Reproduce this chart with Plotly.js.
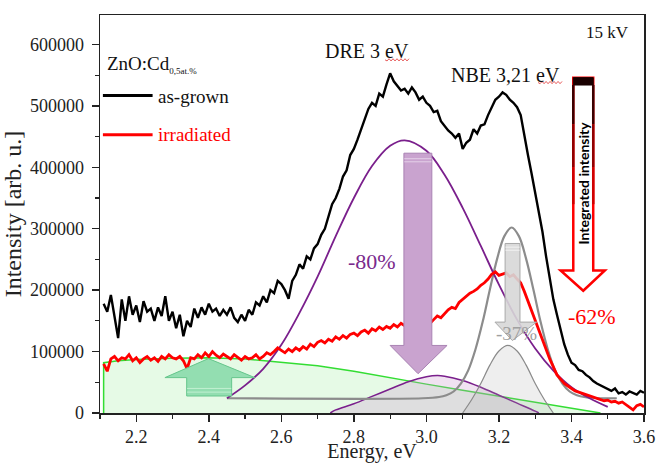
<!DOCTYPE html>
<html>
<head>
<meta charset="utf-8">
<script src="https://cdn.plot.ly/plotly-3.0.1.min.js"></script>
<style>html,body{margin:0;padding:0;background:#fff;}#chart{width:656px;height:463px;}</style>
</head>
<body>
<div id="chart"></div>
<script>
// ---- data ----
const energy = [2.11,2.12,2.13,2.14,2.15,2.16,2.17,2.18,2.19,2.20,
2.21,2.22,2.23,2.24,2.25,2.26,2.27,2.28,2.29,2.30,
2.31,2.32,2.33,2.34,2.35,2.36,2.37,2.38,2.39,2.40,
2.41,2.42,2.43,2.44,2.45,2.46,2.47,2.48,2.49,2.50,
2.51,2.52,2.53,2.54,2.55,2.56,2.57,2.58,2.59,2.60,
2.61,2.62,2.63,2.64,2.65,2.66,2.67,2.68,2.69,2.70,
2.71,2.72,2.73,2.74,2.75,2.76,2.77,2.78,2.79,2.80,
2.81,2.82,2.83,2.84,2.85,2.86,2.87,2.88,2.89,2.90,
2.91,2.92,2.93,2.94,2.95,2.96,2.97,2.98,2.99,3.00,
3.01,3.02,3.03,3.04,3.05,3.06,3.07,3.08,3.09,3.10,
3.11,3.12,3.13,3.14,3.15,3.16,3.17,3.18,3.19,3.20,
3.21,3.22,3.23,3.24,3.25,3.26,3.27,3.28,3.29,3.30,
3.31,3.32,3.33,3.34,3.35,3.36,3.37,3.38,3.39,3.40,
3.41,3.42,3.43,3.44,3.45,3.46,3.47,3.48,3.49,3.50,
3.51,3.52,3.53,3.54,3.55,3.56,3.57,3.58,3.59,3.60];

const asGrown = [178000,165000,192000,158000,122000,185000,150000,190000,160000,175000,
148000,182000,165000,170000,150000,172000,158000,190000,150000,165000,
138000,160000,125000,150000,140000,170000,155000,172000,160000,178000,
165000,170000,158000,168000,160000,172000,155000,148000,160000,150000,
168000,160000,180000,175000,190000,180000,200000,195000,215000,210000,
200000,186000,215000,225000,242000,235000,255000,250000,268000,275000,
290000,300000,322000,340000,350000,365000,385000,395000,420000,430000,
445000,462000,480000,495000,505000,500000,520000,515000,535000,553000,
540000,532000,525000,528000,520000,530000,522000,510000,515000,505000,
500000,490000,492000,475000,468000,460000,455000,448000,455000,430000,
440000,445000,462000,455000,468000,470000,485000,498000,510000,515000,
522000,518000,510000,505000,498000,485000,450000,420000,390000,360000,
330000,295000,255000,218000,185000,160000,135000,112000,95000,82000,
78000,70000,68000,62000,58000,52000,48000,45000,42000,38000,
36000,40000,32000,34000,30000,35000,32000,30000,36000,33000];

const irradiated = [80000,68000,88000,92000,85000,90000,88000,95000,85000,90000,
82000,88000,92000,86000,90000,84000,92000,88000,95000,90000,
88000,92000,85000,72000,90000,88000,95000,90000,98000,92000,
100000,94000,90000,96000,92000,88000,95000,90000,86000,92000,
88000,90000,95000,88000,92000,98000,95000,100000,106000,102000,
98000,104000,100000,106000,102000,108000,104000,112000,108000,115000,
118000,114000,120000,117000,124000,120000,126000,122000,128000,130000,
126000,132000,135000,130000,137000,134000,140000,136000,141000,138000,
144000,140000,146000,142000,148000,152000,145000,150000,146000,150000,
146000,152000,158000,155000,162000,168000,172000,170000,180000,185000,
190000,195000,198000,202000,208000,212000,218000,226000,230000,224000,
226000,228000,222000,225000,218000,212000,198000,182000,168000,150000,
135000,120000,105000,88000,75000,62000,55000,48000,44000,40000,
36000,34000,32000,30000,28000,25000,24000,22000,20000,21000,
18000,19000,16000,18000,14000,10000,5000,12000,14000,10000];

// fitted components
const dreGrownX = [2.45,2.50,2.55,2.60,2.65,2.70,2.75,2.80,2.85,2.90,2.94,3.00,3.05,3.10,3.15,3.20,3.25,3.30,3.35,3.40,3.45,3.50];
const dreGrownY = [24000,45000,72000,111000,163000,222000,288000,350000,402000,435000,444000,427000,388000,334000,272000,209000,152000,105000,69000,42000,24000,10000];

const dreIrrX = [2.735,2.75,2.80,2.85,2.90,2.95,3.00,3.03,3.05,3.10,3.15,3.20,3.25,3.30,3.31];
const dreIrrY = [0,5000,15000,27000,39000,51000,59000,61000,60000,53000,42000,29000,16000,3000,0];

const nbeGrownX = [2.45,2.99,3.035,3.055,3.075,3.095,3.115,3.135,3.155,3.175,3.195,3.215,3.235,3.255,3.275,3.295,3.315,3.335,3.355,3.375,3.395,3.415,3.435,3.48,3.525];
const nbeGrownY = [24000,24000,26000,29000,35000,48000,69000,103000,148000,201000,251000,288000,302000,288000,251000,201000,148000,103000,69000,48000,35000,29000,26000,24000,24000];

const nbeIrrX = [3.10,3.125,3.15,3.175,3.20,3.225,3.25,3.275,3.30,3.325,3.35];
const nbeIrrY = [0,22000,48000,78000,101000,110000,101000,78000,48000,22000,0];

const bgX = [2.11,2.11,2.15,2.20,2.30,2.40,2.50,2.60,2.70,2.80,2.90,3.00,3.10,3.20,3.30,3.40,3.48];
const bgY = [0,82000,85000,87000,89000,90000,88000,83000,77000,68000,57000,47000,37000,27000,17000,8000,0];

const xTickFmt = '.1f';

// ---- traces ----
const serif = 'Liberation Serif, Times New Roman, serif';
const traces = [
  {x: bgX, y: bgY, mode: 'lines', line: {color: '#33dd33', width: 1.5}, fill: 'tozeroy', fillcolor: 'rgba(200,245,200,0.45)', hoverinfo: 'skip'},
  {x: dreIrrX, y: dreIrrY, mode: 'lines', line: {color: '#7a1f8c', width: 1.5, shape: 'spline'}, fill: 'tozeroy', fillcolor: 'rgba(200,150,205,0.28)', hoverinfo: 'skip'},
  {x: nbeIrrX, y: nbeIrrY, mode: 'lines', line: {color: '#8a8a8a', width: 1.2, shape: 'spline'}, fill: 'tozeroy', fillcolor: 'rgba(170,170,170,0.2)', hoverinfo: 'skip'},
  {x: nbeGrownX, y: nbeGrownY, mode: 'lines', line: {color: '#8c8c8c', width: 2.2, shape: 'spline'}, hoverinfo: 'skip'},
  {x: dreGrownX, y: dreGrownY, mode: 'lines', line: {color: '#7a1f8c', width: 1.8, shape: 'spline'}, hoverinfo: 'skip'},
  {x: energy, y: irradiated, mode: 'lines', name: 'irradiated', line: {color: '#ff0000', width: 2.8}},
  {x: energy, y: asGrown, mode: 'lines', name: 'as-grown', line: {color: '#000000', width: 2.4}}
];

// ---- decorations (arrows etc.) ----
function squiggle(x0, x1, y) {
  let p = 'M ' + x0 + ',' + y;
  let k = 0;
  for (let x = x0 + 0.0055; x <= x1 + 1e-9; x += 0.0055) {
    k++;
    p += ' L ' + x.toFixed(4) + ',' + (y + (k % 2 ? -1800 : 1800));
  }
  return p;
}
const shapes = [
  // purple down arrow
  {type: 'path', xref: 'x', yref: 'y', path: 'M 2.938,423000 L 3.015,423000 L 3.015,110000 L 3.057,110000 L 2.977,64000 L 2.900,110000 L 2.938,110000 Z', fillcolor: '#c9a3cf', line: {color: '#a983b3', width: 1}},
  {type: 'line', xref: 'x', yref: 'y', x0: 2.939, x1: 3.014, y0: 414000, y1: 414000, line: {color: '#e4d0e8', width: 1}},
  {type: 'line', xref: 'x', yref: 'y', x0: 2.939, x1: 3.014, y0: 409000, y1: 409000, line: {color: '#e4d0e8', width: 1}},
  // green up arrow
  {type: 'path', xref: 'x', yref: 'y', path: 'M 2.339,27700 L 2.339,57600 L 2.279,57600 L 2.399,88600 L 2.527,57600 L 2.463,57600 L 2.463,27700 Z', fillcolor: '#93deb1', line: {color: '#66c68c', width: 1}},
  {type: 'line', xref: 'x', yref: 'y', x0: 2.340, x1: 2.462, y0: 40000, y1: 40000, line: {color: '#c2f0d2', width: 1}},
  {type: 'line', xref: 'x', yref: 'y', x0: 2.340, x1: 2.462, y0: 34000, y1: 34000, line: {color: '#c2f0d2', width: 1}},
  // gray down arrow
  {type: 'path', xref: 'x', yref: 'y', path: 'M 3.217,276000 L 3.258,276000 L 3.258,148000 L 3.304,148000 L 3.237,118000 L 3.189,148000 L 3.217,148000 Z', fillcolor: 'rgba(215,215,215,0.9)', line: {color: '#a8a8a8', width: 1}},
  {type: 'line', xref: 'x', yref: 'y', x0: 3.218, x1: 3.257, y0: 270000, y1: 270000, line: {color: '#f2f2f2', width: 1}},
  {type: 'line', xref: 'x', yref: 'y', x0: 3.218, x1: 3.257, y0: 265000, y1: 265000, line: {color: '#f2f2f2', width: 1}},
  // red outlined arrow
  {type: 'path', xref: 'x', yref: 'y', path: 'M 3.405,546000 L 3.460,546000 L 3.460,232000 L 3.492,232000 L 3.4325,199000 L 3.370,232000 L 3.405,232000 Z', fillcolor: '#ffffff', line: {color: '#ff0000', width: 2.5}},
  {type: 'rect', xref: 'x', yref: 'y', x0: 3.405, x1: 3.460, y0: 534000, y1: 546000, fillcolor: '#1a0000', line: {color: '#1a0000', width: 1}},
  {type: 'line', xref: 'x', yref: 'y', x0: 3.405, x1: 3.405, y0: 534000, y1: 470000, line: {color: '#3a0000', width: 2.5}},
  {type: 'line', xref: 'x', yref: 'y', x0: 3.460, x1: 3.460, y0: 534000, y1: 470000, line: {color: '#3a0000', width: 2.5}},
  {type: 'line', xref: 'x', yref: 'y', x0: 3.405, x1: 3.405, y0: 470000, y1: 400000, line: {color: '#900000', width: 2.5}},
  {type: 'line', xref: 'x', yref: 'y', x0: 3.460, x1: 3.460, y0: 470000, y1: 400000, line: {color: '#900000', width: 2.5}},
  {type: 'line', xref: 'x', yref: 'y', x0: 3.405, x1: 3.405, y0: 400000, y1: 340000, line: {color: '#d00000', width: 2.5}},
  {type: 'line', xref: 'x', yref: 'y', x0: 3.460, x1: 3.460, y0: 400000, y1: 340000, line: {color: '#d00000', width: 2.5}},
  // legend lines
  {type: 'line', xref: 'x', yref: 'y', x0: 2.108, x1: 2.245, y0: 517000, y1: 517000, line: {color: '#000', width: 3}},
  {type: 'line', xref: 'x', yref: 'y', x0: 2.108, x1: 2.245, y0: 453000, y1: 453000, line: {color: '#ff0000', width: 3}},
  // red wavy underlines
  {type: 'path', xref: 'x', yref: 'y', path: squiggle(2.886, 2.955, 575000), line: {color: '#e03030', width: 0.8}},
  {type: 'path', xref: 'x', yref: 'y', path: squiggle(3.308, 3.377, 538000), line: {color: '#e03030', width: 0.8}}
];

function ann(x, y, text, size, color, extra) {
  return Object.assign({x: x, y: y, xref: 'x', yref: 'y', text: text, showarrow: false,
    font: {family: serif, size: size, color: color}}, extra || {});
}
const annotations = [
  ann(2.114, 568000, 'ZnO:Cd<sub><span style="font-size:9px">0,5at.%</span></sub>', 19, '#111', {xanchor: 'left'}),
  ann(2.255, 516000, 'as-grown', 19, '#111', {xanchor: 'left'}),
  ann(2.255, 454000, 'irradiated', 19, '#ff0000', {xanchor: 'left'}),
  ann(2.835, 589000, 'DRE 3 eV', 20, '#111'),
  ann(3.219, 551000, 'NBE 3,21 eV', 20, '#111'),
  ann(3.499, 620000, '15 kV', 17, '#111'),
  ann(2.851, 247000, '-80%', 22, '#7a2a8c'),
  ann(3.456, 157000, '-62%', 22, '#ff0000'),
  ann(3.249, 130000, '-37%', 19, '#a0a0a0'),
  {x: 3.4325, y: 374000, xref: 'x', yref: 'y', text: '<b>Integrated intensity</b>', textangle: -90, showarrow: false,
   font: {family: 'Lato, Open Sans, sans-serif', size: 14, color: '#000'}}
];

const layout = {
  width: 656, height: 463,
  margin: {l: 100, r: 12, t: 15, b: 50},
  paper_bgcolor: '#fff', plot_bgcolor: '#fff',
  showlegend: false,
  xaxis: {
    range: [2.1, 3.6], dtick: 0.2, tick0: 2.2, tickformat: xTickFmt,
    showline: true, linecolor: '#222', linewidth: 1.5, mirror: true,
    ticks: 'outside', ticklen: 7, tickwidth: 1.5, tickcolor: '#222',
    minor: {dtick: 0.1, ticks: 'outside', ticklen: 4, tickwidth: 1.2, tickcolor: '#222'},
    showgrid: false, zeroline: false,
    tickfont: {family: serif, size: 18, color: '#222'},
    title: {text: 'Energy, eV', font: {family: serif, size: 20, color: '#222'}, standoff: 9},
    automargin: false
  },
  yaxis: {
    range: [0, 648000], dtick: 100000, tickformat: 'd',
    showline: true, linecolor: '#222', linewidth: 1.5, mirror: true,
    ticks: 'outside', ticklen: 7, tickwidth: 1.5, tickcolor: '#222',
    minor: {dtick: 50000, ticks: 'outside', ticklen: 4, tickwidth: 1.2, tickcolor: '#222'},
    showgrid: false, zeroline: false,
    tickfont: {family: serif, size: 18, color: '#222'},
    ticklabelstandoff: 4,
    title: {text: 'Intensity [arb. u.]', font: {family: serif, size: 24, color: '#222'}, standoff: 4},
    automargin: false
  },
  shapes: shapes,
  annotations: annotations
};

Plotly.newPlot('chart', traces, layout, {displayModeBar: false, staticPlot: true});
</script>
</body>
</html>
